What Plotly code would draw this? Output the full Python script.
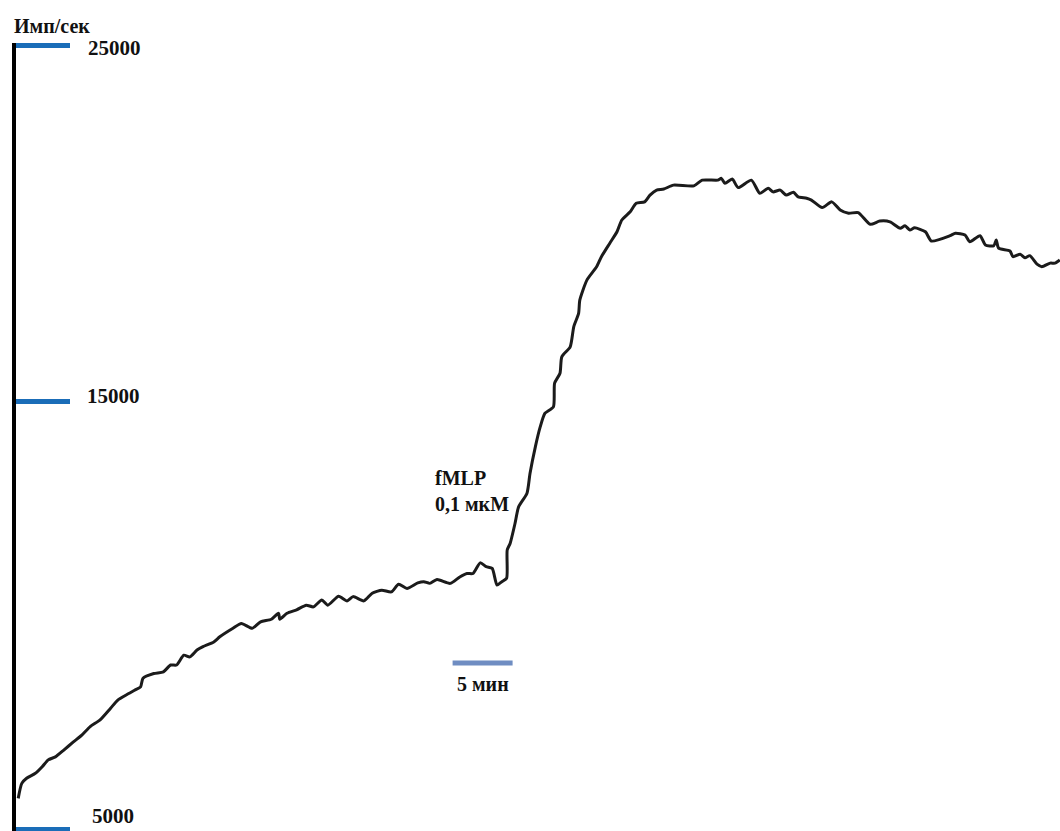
import numpy as np
import plotly.graph_objects as go

# Chemiluminescence trace: time (min) and signal (Имп/сек)
time_min = [0.1, 0.4, 0.8, 1.5, 2.1, 2.6, 3.2, 3.9, 4.7, 5.4, 6.1, 6.9, 7.8, 8.4, 9.1, 9.8,
            10.3, 10.5, 11.4, 12.2, 12.8, 13.3, 13.9, 14.4, 15.0, 15.5, 16.4, 16.9, 18.0, 18.7,
            19.6, 20.3, 21.2, 21.8, 21.9, 22.5, 23.3, 24.1, 24.7, 25.4, 25.9, 26.8, 27.5, 28.0,
            28.9, 29.6, 30.4, 31.2, 31.8, 32.5, 33.4, 33.9, 34.4, 35.0, 36.1, 36.9, 37.5, 38.0,
            38.6, 39.1, 39.6, 40.0, 40.4, 40.8, 40.85, 41.1, 41.5, 41.8, 42.5, 42.75, 43.2, 43.6,
            44.0, 44.7, 44.8, 45.25, 45.4, 46.1, 46.4, 46.8, 46.9, 47.5, 48.3, 48.7, 49.4, 50.0,
            50.4, 51.1, 51.6, 52.3, 52.75, 53.3, 53.9, 54.7, 56.4, 57.1, 58.4, 58.7, 59.0, 59.6,
            60.1, 61.2, 61.9, 62.6, 63.0, 63.6, 64.1, 64.7, 65.1, 65.8, 66.2, 67.1, 67.9, 68.6,
            69.3, 70.1, 71.1, 71.9, 72.75, 73.6, 74.0, 74.4, 74.8, 75.7, 76.2, 77.75, 78.2, 79.0,
            79.4, 80.25, 80.7, 81.4, 81.6, 81.8, 82.75, 83.0, 83.6, 84.0, 84.4, 85.0, 85.4, 86.1,
            86.5, 86.9]

signal = [5720, 6070, 6190, 6300, 6460, 6620, 6690, 6850, 7040, 7200, 7400, 7550, 7830, 8020,
          8140, 8250, 8330, 8530, 8640, 8680, 8840, 8840, 9070, 9030, 9190, 9270, 9380, 9500,
          9700, 9810, 9700, 9850, 9910, 10050, 9910, 10050, 10130, 10240, 10200, 10360, 10240,
          10450, 10340, 10440, 10340, 10520, 10590, 10550, 10730, 10630, 10760, 10790, 10750,
          10840, 10750, 10900, 10980, 10980, 11230, 11140, 11100, 10710, 10790, 10870, 11530,
          11690, 12150, 12540, 12860, 13320, 13950, 14410, 14730, 14880, 15520, 15800, 16260,
          16540, 17110, 17480, 17850, 18420, 18790, 19070, 19450, 19770, 20100, 20330, 20570,
          20610, 20800, 20940, 20970, 21080, 21060, 21220, 21220, 21270, 21130, 21250, 21010,
          21220, 20850, 20990, 20890, 20940, 20800, 20880, 20750, 20710, 20660, 20450, 20610,
          20380, 20290, 20310, 19980, 20070, 20050, 19870, 19940, 19820, 19880, 19770, 19510,
          19660, 19730, 19680, 19490, 19660, 19400, 19380, 19540, 19310, 19230, 19070, 19140,
          19040, 19100, 18860, 18790, 18890, 18890, 18980]

assert len(time_min) == len(signal)

tick_values = [5000, 15000, 25000]
tick_labels = ["5000", "15000", "25000"]
scale_bar_min = 5
stimulus_label = "fMLP<br>0,1 мкМ"
y_title = "Имп/сек"

# The ordinate is stretched below 15000 (1.2x per unit), as on the original recorder scale
BREAK = 15000
LOW_STRETCH = 1.2


def to_axis(v):
    v = np.asarray(v, dtype=float)
    return np.where(v >= BREAK, v, BREAK - (BREAK - v) * LOW_STRETCH)


FONT = "Liberation Serif, Times New Roman, serif"
TICK_BLUE = "#1a6db8"
BAR_BLUE = "#6f8dc2"
TEXT = "#111111"

fig = go.Figure()
fig.add_trace(go.Scatter(
    x=time_min, y=to_axis(signal), mode="lines",
    line=dict(color="#1b1b1b", width=3, shape="spline", smoothing=0.6),
    hoverinfo="skip", showlegend=False,
))

# 5-minute scale bar
bar_x0 = 36.3
fig.add_shape(type="line", xref="x", yref="paper",
              x0=bar_x0, x1=bar_x0 + scale_bar_min, y0=0.2132, y1=0.2132,
              line=dict(color=BAR_BLUE, width=5))
fig.add_annotation(xref="x", yref="paper", x=bar_x0 + scale_bar_min / 2, y=0.186,
                   text=f"<b>{scale_bar_min} мин</b>", showarrow=False,
                   font=dict(family=FONT, size=20, color=TEXT),
                   xanchor="center", yanchor="middle")

# Stimulus label
fig.add_annotation(xref="x", yref="paper", x=34.7, y=0.432,
                   text=f"<b>{stimulus_label}</b>", showarrow=False, align="left",
                   font=dict(family=FONT, size=20, color=TEXT),
                   xanchor="left", yanchor="middle")

# Tick labels to the right of the blue ticks
label_shift = {5000: (4, 13), 15000: (-1, 6), 25000: (0, -3)}
for v, lab in zip(tick_values, tick_labels):
    dx, dy = label_shift[v]
    fig.add_annotation(xref="paper", yref="y", x=0.068, y=float(to_axis(v)),
                       text=f"<b>{lab}</b>", showarrow=False, xshift=dx, yshift=dy,
                       font=dict(family=FONT, size=21, color=TEXT),
                       xanchor="left", yanchor="middle", borderpad=0)

# Axis unit
fig.add_annotation(xref="paper", yref="paper", x=-0.004, y=1.0, yshift=17,
                   text=f"<b>{y_title}</b>", showarrow=False,
                   font=dict(family=FONT, size=20, color=TEXT),
                   xanchor="left", yanchor="middle")

fig.update_layout(
    width=1060, height=831,
    margin=dict(l=16, r=0, t=43, b=0),
    paper_bgcolor="white", plot_bgcolor="white",
    xaxis=dict(range=[-1 / 12, 86.917], visible=False),
    yaxis=dict(range=[2948, 25070], showgrid=False, zeroline=False,
               showline=True, linecolor="black", linewidth=4,
               ticks="inside", ticklen=54, tickwidth=5, tickcolor=TICK_BLUE,
               tickvals=to_axis(tick_values).tolist(), showticklabels=False),
)

fig.write_html("out.html")
